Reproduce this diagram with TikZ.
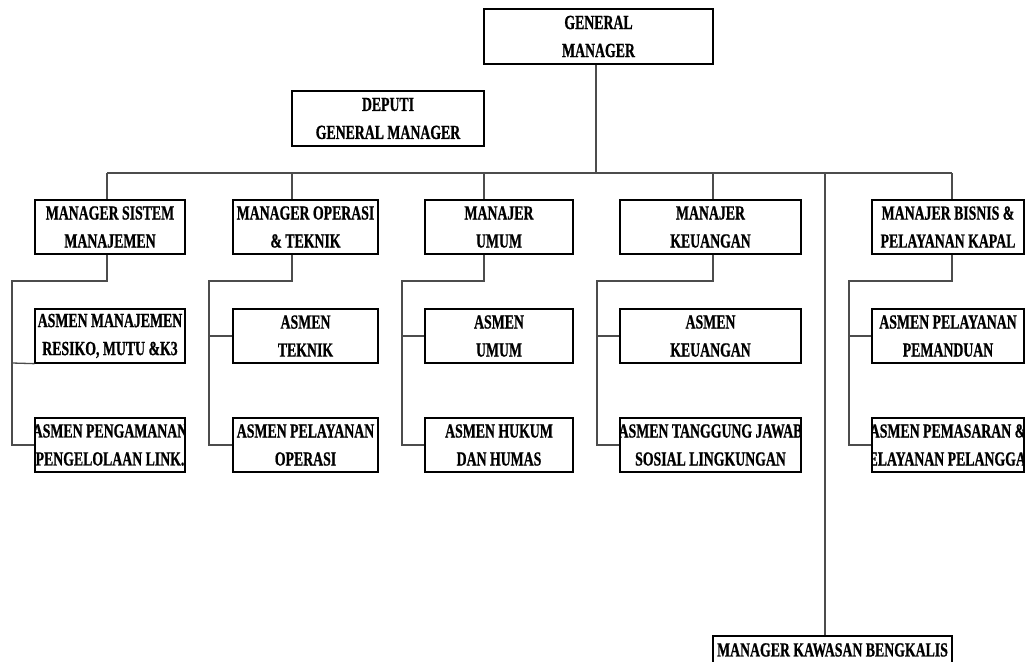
\documentclass[tikz,border=0pt]{standalone}
\usepackage{fontspec}
\setmainfont[FakeStretch=0.69, BoldFeatures={FakeBold=0.8}]{Liberation Serif}
\begin{document}
\begin{tikzpicture}[x=1pt,y=-1pt,
  box/.style={draw=black, line width=1.3pt, rectangle, inner sep=0pt, fill=white},
  lbl/.style={inner sep=0pt, align=center, font=\fontsize{20}{28}\selectfont\bfseries, text=black},
  conn/.style={draw=black!70, line width=1.3pt}]
\clip (0,0) rectangle (1027,661);
\fill[white] (0,0) rectangle (1027,661);
\newcommand\obox[6]{%
  \node[box, minimum width=#4pt, minimum height=#5pt] (#1) at (#2,#3) {};
  \begin{scope}\clip (#1.south west) rectangle (#1.north east);
  \node[lbl] (#1-t) at (#1.center) {#6};\end{scope}}
% top
\obox{gm}{598.5}{36.5}{229}{55}{GENERAL\\MANAGER}
\obox{dgm}{388}{118.5}{192}{55}{DEPUTI\\GENERAL MANAGER}
% managers
\obox{msm}{110}{227}{150}{54}{MANAGER SISTEM\\MANAJEMEN}
\obox{mot}{305.5}{227}{145}{54}{MANAGER OPERASI\\\& TEKNIK}
\obox{mu}{499}{227}{148}{54}{MANAJER\\UMUM}
\obox{mk}{710.5}{227}{181}{54}{MANAJER\\KEUANGAN}
\obox{mb}{948}{227}{152}{54}{MANAJER BISNIS \&\\PELAYANAN KAPAL}
% asmen row 1
\obox{msm1}{110}{336}{150}{54}{ASMEN MANAJEMEN\\RESIKO, MUTU \&K3}
\obox{mot1}{305.5}{336}{145}{54}{ASMEN\\TEKNIK}
\obox{mu1}{499}{336}{148}{54}{ASMEN\\UMUM}
\obox{mk1}{710.5}{336}{181}{54}{ASMEN\\KEUANGAN}
\obox{mb1}{948}{336}{152}{54}{ASMEN PELAYANAN\\PEMANDUAN}
% asmen row 2
\obox{msm2}{110}{445}{150}{54}{ASMEN PENGAMANAN\\PENGELOLAAN LINK.}
\obox{mot2}{305.5}{445}{145}{54}{ASMEN PELAYANAN\\OPERASI}
\obox{mu2}{499}{445}{148}{54}{ASMEN HUKUM\\DAN HUMAS}
\obox{mk2}{710.5}{445}{181}{54}{ASMEN TANGGUNG JAWAB\\SOSIAL LINGKUNGAN}
\obox{mb2}{948}{445}{152}{54}{ASMEN PEMASARAN \&\\PELAYANAN PELANGGAN}
% bengkalis
\node[box, minimum width=239pt, minimum height=54pt] (bk) at (832.5,663) {};
\node[lbl] (bk-t) at (832.5,650) {MANAGER KAWASAN BENGKALIS};
% bus coordinates
\coordinate (b1) at (107,173);
\coordinate (b2) at (292,173);
\coordinate (b3) at (484,173);
\coordinate (b4) at (713,173);
\coordinate (b5) at (952,173);
\coordinate (b6) at (825,173);
\draw[conn] (b1) -- (b5);
\draw[conn] (gm.south -| 596,0) -- (596,173);
\draw[conn] (b1) -- (b1 |- msm.north);
\draw[conn] (b2) -- (b2 |- mot.north);
\draw[conn] (b3) -- (b3 |- mu.north);
\draw[conn] (b4) -- (b4 |- mk.north);
\draw[conn] (b5) -- (b5 |- mb.north);
\draw[conn] (b6) -- (b6 |- bk.north);
% sub trees
\draw[conn] (msm.south -| b1) -- (107,281) -- (12,281) -- (12,445) -- (msm2.west);
\draw[conn] (12,363) -- (msm1.south west);
\draw[conn] (mot.south -| b2) -- (292,281) -- (209,281) -- (209,445) -- (mot2.west);
\draw[conn] (209,336) -- (mot1.west);
\draw[conn] (mu.south -| b3) -- (484,281) -- (402,281) -- (402,445) -- (mu2.west);
\draw[conn] (402,336) -- (mu1.west);
\draw[conn] (mk.south -| b4) -- (713,281) -- (597,281) -- (597,445) -- (mk2.west);
\draw[conn] (597,336) -- (mk1.west);
\draw[conn] (mb.south -| b5) -- (952,281) -- (849,281) -- (849,445) -- (mb2.west);
\draw[conn] (849,336) -- (mb1.west);
\end{tikzpicture}
\end{document}
